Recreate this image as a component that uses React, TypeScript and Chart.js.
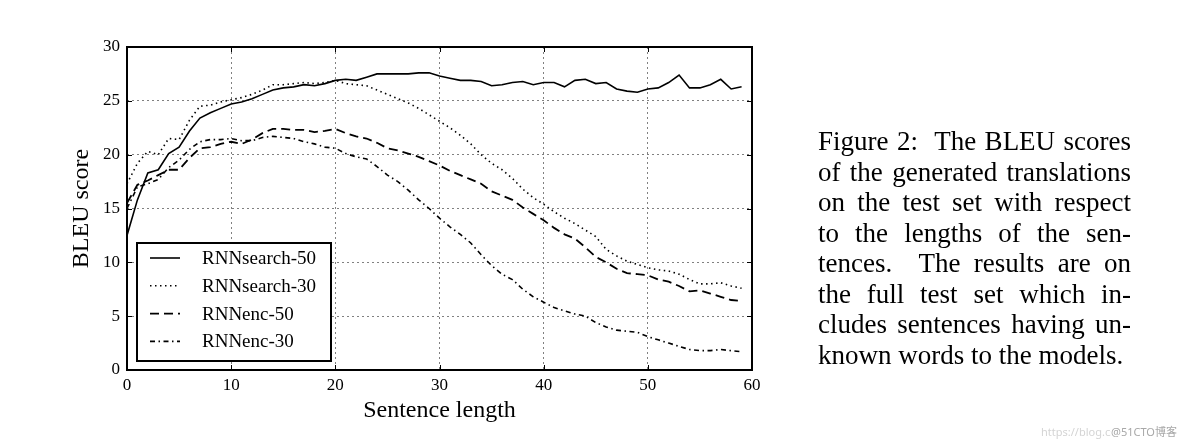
import React, { useEffect, useRef } from "react";
import { Chart, registerables } from "chart.js";

Chart.register(...registerables);

// Sentence length (x) for each sample
const sentenceLength = [
  0, 1, 2, 3, 4, 5, 6, 7, 8, 9, 10, 11, 12, 13, 14, 15, 16, 17, 18, 19,
  20, 21, 22, 23, 24, 25, 26, 27, 28, 29, 30, 31, 32, 33, 34, 35, 36, 37, 38, 39,
  40, 41, 42, 43, 44, 45, 46, 47, 48, 49, 50, 51, 52, 53, 54, 55, 56, 57, 58, 59,
];

const rnnSearch50 = [
  12.5, 15.8, 18.3, 18.6, 20.1, 20.7, 22.2, 23.4, 23.9, 24.3,
  24.7, 24.9, 25.2, 25.6, 26.0, 26.2, 26.3, 26.5, 26.4, 26.6,
  26.9, 27.0, 26.9, 27.2, 27.5, 27.5, 27.5, 27.5, 27.6, 27.6,
  27.3, 27.1, 26.9, 26.9, 26.8, 26.4, 26.5, 26.7, 26.8, 26.5,
  26.7, 26.7, 26.3, 26.9, 27.0, 26.6, 26.7, 26.1, 25.9, 25.8,
  26.1, 26.2, 26.7, 27.4, 26.2, 26.2, 26.5, 27.0, 26.1, 26.3,
];

const rnnSearch30 = [
  17.3, 19.2, 20.3, 20.0, 21.5, 21.4, 23.2, 24.5, 24.6, 24.9,
  25.1, 25.3, 25.6, 26.0, 26.5, 26.5, 26.6, 26.7, 26.6, 26.7,
  26.9, 26.6, 26.5, 26.4, 26.0, 25.6, 25.2, 24.8, 24.3, 23.7,
  23.1, 22.5, 21.8, 21.0, 20.0, 19.2, 18.6, 17.8, 16.8, 16.0,
  15.4, 14.7, 14.1, 13.6, 13.0, 12.4, 11.2, 10.6, 10.1, 9.8,
  9.5, 9.3, 9.2, 8.9, 8.4, 8.0, 8.0, 8.1, 7.8, 7.6,
];

const rnnEnc50 = [
  15.5, 17.2, 17.6, 18.1, 18.6, 18.6, 19.7, 20.6, 20.7, 21.0,
  21.2, 21.0, 21.4, 22.0, 22.4, 22.4, 22.3, 22.3, 22.1, 22.2,
  22.4, 22.0, 21.7, 21.5, 21.1, 20.6, 20.4, 20.1, 19.8, 19.4,
  19.0, 18.5, 18.1, 17.7, 17.3, 16.6, 16.2, 15.8, 15.1, 14.5,
  13.9, 13.2, 12.6, 12.2, 11.4, 10.5, 10.0, 9.4, 9.0, 8.9,
  8.8, 8.4, 8.2, 7.8, 7.3, 7.4, 7.1, 6.8, 6.5, 6.4,
];

const rnnEnc30 = [
  15.0, 17.0, 17.3, 17.7, 18.8, 19.5, 20.5, 21.2, 21.4, 21.4,
  21.5, 21.3, 21.3, 21.6, 21.7, 21.6, 21.5, 21.2, 21.0, 20.7,
  20.6, 20.1, 19.8, 19.6, 18.9, 18.1, 17.5, 16.7, 15.8, 15.0,
  14.1, 13.3, 12.6, 11.8, 10.7, 9.7, 8.9, 8.4, 7.5, 6.8,
  6.3, 5.8, 5.5, 5.2, 5.0, 4.4, 4.0, 3.7, 3.6, 3.5,
  3.1, 2.8, 2.5, 2.2, 1.9, 1.8, 1.8, 1.9, 1.8, 1.7,
];

const seriesLabels = ["RNNsearch-50", "RNNsearch-30", "RNNenc-50", "RNNenc-30"];
const xTicks = [0, 10, 20, 30, 40, 50, 60];
const yTicks = [0, 5, 10, 15, 20, 25, 30];
const xTitle = "Sentence length";
const yTitle = "BLEU score";

const captionLines = [
  "Figure 2:  The BLEU scores",
  "of the generated translations",
  "on the test set with respect",
  "to the lengths of the sen-",
  "tences.  The results are on",
  "the full test set which in-",
  "cludes sentences having un-",
  "known words to the models.",
];

const SERIF = '"Liberation Serif", "Times New Roman", serif';

const toPoints = (vals: number[]) =>
  vals.map((v, i) => ({ x: sentenceLength[i], y: v }));

const dashes: number[][] = [[], [1.5, 3.5], [9, 5], [5, 3.5, 1.5, 3.5]];
const widths = [1.6, 1.6, 1.8, 1.6];

const framePlugin = {
  id: "frameAndLegend",
  afterDatasetsDraw(chart: any) {
    const { ctx, chartArea: a, scales } = chart;
    ctx.save();
    ctx.setLineDash([]);
    ctx.strokeStyle = "#000";
    ctx.lineWidth = 1;
    ctx.beginPath();
    for (const t of xTicks) {
      const px = Math.round(scales.x.getPixelForValue(t)) + 0.5;
      ctx.moveTo(px, a.bottom);
      ctx.lineTo(px, a.bottom - 5);
      ctx.moveTo(px, a.top);
      ctx.lineTo(px, a.top + 5);
    }
    for (const t of yTicks) {
      const py = Math.round(scales.y.getPixelForValue(t)) + 0.5;
      ctx.moveTo(a.left, py);
      ctx.lineTo(a.left + 5, py);
      ctx.moveTo(a.right, py);
      ctx.lineTo(a.right - 5, py);
    }
    ctx.stroke();

    ctx.lineWidth = 2;
    ctx.strokeRect(a.left, a.top, a.right - a.left, a.bottom - a.top);

    // legend box
    const lx = a.left + 10;
    const lw = 194;
    const lh = 118;
    const ly = a.bottom - 9 - lh;
    ctx.fillStyle = "#fff";
    ctx.fillRect(lx, ly, lw, lh);
    ctx.lineWidth = 2;
    ctx.strokeRect(lx, ly, lw, lh);
    ctx.font = `19px ${SERIF}`;
    ctx.textBaseline = "middle";
    ctx.textAlign = "left";
    chart.data.datasets.forEach((ds: any, i: number) => {
      const ry = ly + 15 + i * 27.8;
      ctx.beginPath();
      ctx.setLineDash(dashes[i]);
      ctx.lineWidth = widths[i];
      ctx.strokeStyle = "#000";
      ctx.moveTo(lx + 13, ry);
      ctx.lineTo(lx + 43, ry);
      ctx.stroke();
      ctx.setLineDash([]);
      ctx.fillStyle = "#000";
      ctx.fillText(ds.label, lx + 65, ry + 1);
    });
    ctx.restore();
  },
};

export default function App() {
  const canvasRef = useRef<HTMLCanvasElement | null>(null);

  useEffect(() => {
    const canvas = canvasRef.current;
    if (!canvas) return;
    const seriesValues = [rnnSearch50, rnnSearch30, rnnEnc50, rnnEnc30];
    const chart = new Chart(canvas, {
      type: "line",
      data: {
        datasets: seriesValues.map((vals, i) => ({
          label: seriesLabels[i],
          data: toPoints(vals),
          borderColor: "#000",
          backgroundColor: "#000",
          borderWidth: widths[i],
          borderDash: dashes[i],
          borderCapStyle: "butt",
          pointRadius: 0,
          tension: 0,
          fill: false,
        })),
      },
      options: {
        responsive: false,
        animation: false,
        devicePixelRatio: 1,
        layout: { padding: { left: 0, top: 47, right: 432, bottom: 0 } },
        plugins: {
          legend: { display: false },
          tooltip: { enabled: false },
          title: { display: false },
        },
        scales: {
          x: {
            type: "linear",
            min: 0,
            max: 60,
            afterFit: (s: any) => {
              s.height = 75;
            },
            afterBuildTicks: (s: any) => {
              s.ticks = xTicks.map((v) => ({ value: v }));
            },
            ticks: {
              color: "#000",
              font: { family: SERIF, size: 17 },
              padding: 5,
              maxRotation: 0,
            },
            grid: {
              color: (c: any) =>
                c.tick && (c.tick.value === 0 || c.tick.value === 60) ? "rgba(0,0,0,0)" : "#808080",
              lineWidth: 1,
              drawTicks: false,
            },
            border: { display: false, dash: [2, 3] },
            title: {
              display: true,
              text: xTitle,
              color: "#000",
              font: { family: SERIF, size: 24 },
              padding: { top: 0, bottom: 20 },
            },
          },
          y: {
            type: "linear",
            min: 0,
            max: 30,
            afterFit: (s: any) => {
              s.width = 127;
            },
            afterBuildTicks: (s: any) => {
              s.ticks = yTicks.map((v) => ({ value: v }));
            },
            ticks: {
              color: "#000",
              font: { family: SERIF, size: 17 },
              padding: 7,
            },
            grid: {
              color: (c: any) =>
                c.tick && (c.tick.value === 0 || c.tick.value === 30) ? "rgba(0,0,0,0)" : "#808080",
              lineWidth: 1,
              drawTicks: false,
            },
            border: { display: false, dash: [2, 3] },
            title: {
              display: true,
              text: yTitle,
              color: "#000",
              font: { family: SERIF, size: 24 },
              padding: { top: 67, bottom: 0 },
            },
          },
        },
      },
      plugins: [framePlugin],
    });
    return () => chart.destroy();
  }, []);

  return (
    <div
      style={{
        position: "absolute",
        left: 0,
        top: 0,
        width: 1184,
        height: 445,
        background: "#fff",
        overflow: "hidden",
      }}
    >
      <canvas
        ref={canvasRef}
        width={1184}
        height={445}
        style={{ position: "absolute", left: 0, top: 0, width: 1184, height: 445 }}
      />
      <div
        style={{
          position: "absolute",
          left: 818,
          top: 126,
          width: 313,
          fontFamily: SERIF,
          fontSize: 27,
          lineHeight: "30.5px",
          color: "#000",
        }}
      >
        {captionLines.map((line, i) => (
          <div
            key={i}
            style={{
              textAlign: i === captionLines.length - 1 ? "left" : "justify",
              textAlignLast: i === captionLines.length - 1 ? "left" : "justify",
              whiteSpace: "pre-wrap",
            }}
          >
            {line}
          </div>
        ))}
      </div>
      <div
        style={{
          position: "absolute",
          left: 1041,
          top: 425,
          fontFamily: '"Noto Sans", sans-serif',
          fontSize: 11,
          lineHeight: "14px",
          color: "#d4d4d4",
          whiteSpace: "nowrap",
        }}
      >
        https://blog.csdn.net
      </div>
      <div
        style={{
          position: "absolute",
          left: 1111,
          top: 425,
          fontFamily: '"Noto Sans", "Noto Sans CJK SC", sans-serif',
          fontSize: 11,
          lineHeight: "14px",
          color: "#a8a8a8",
          background: "#fff",
          whiteSpace: "nowrap",
        }}
      >
        @51CTO博客
      </div>
    </div>
  );
}
